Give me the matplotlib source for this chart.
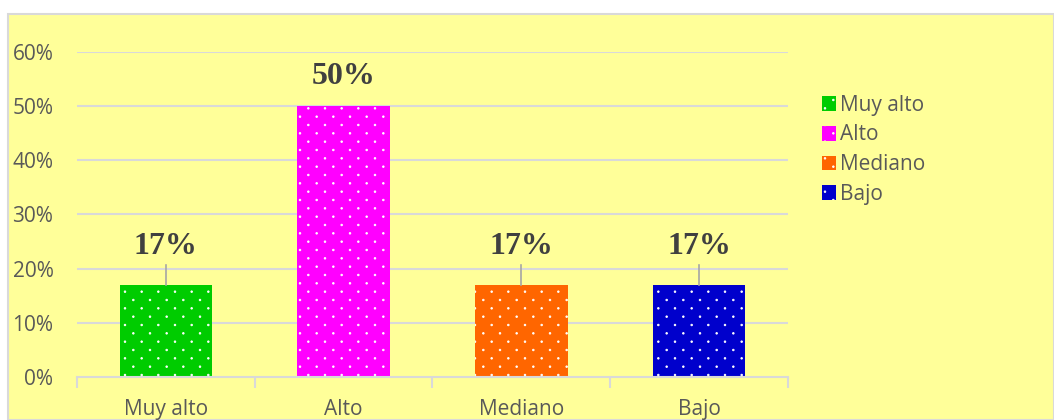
import matplotlib
matplotlib.use("Agg")
import matplotlib.pyplot as plt
import matplotlib.hatch as mhatch
from matplotlib.path import Path
from matplotlib.patches import Rectangle, Patch
import numpy as np

categories = ["Muy alto", "Alto", "Mediano", "Bajo"]
values = [0.17, 0.50, 0.17, 0.17]
labels = ["17%", "50%", "17%", "17%"]
colors = ["#00CC00", "#FF00FF", "#FF6600", "#0000CC"]
yticks = [0, 0.1, 0.2, 0.3, 0.4, 0.5, 0.6]
ytick_labels = ["0%", "10%", "20%", "30%", "40%", "50%", "60%"]


# staggered small-dot hatch (columns 6/in, rows 12/in, alternate rows offset)
class StaggerDots(mhatch.HatchPatternBase):
    filled = True

    def __init__(self, hatch, density):
        self.ncols = hatch.count('.') * density
        self.nrows = 2 * self.ncols
        path = Path.unit_circle()
        self.shape_vertices = path.vertices
        self.shape_codes = path.codes
        if self.ncols == 0:
            self.num_vertices = 0
        else:
            n = (self.nrows // 2 + 1) * (self.ncols + 1) + (self.nrows // 2) * self.ncols
            self.num_vertices = n * len(self.shape_vertices)

    def set_vertices_and_codes(self, vertices, codes):
        sv = self.shape_vertices * 0.008
        vp, cp = [], []
        coff = 1.0 / self.ncols
        for row in range(self.nrows + 1):
            if row % 2 == 0:
                cols = np.linspace(0, 1, self.ncols + 1)
            else:
                cols = np.linspace(coff / 2, 1 - coff / 2, self.ncols)
            rp = row / self.nrows
            for c in cols:
                vp.append(sv + [c, rp])
                cp.append(self.shape_codes)
        np.concatenate(vp, out=vertices)
        np.concatenate(cp, out=codes)


mhatch._hatch_types = [t for t in mhatch._hatch_types
                       if t is not mhatch.SmallFilledCircles] + [StaggerDots]

plt.rcParams["hatch.color"] = "white"
plt.rcParams["hatch.linewidth"] = 0.6

W, H = 1054, 420
fig = plt.figure(figsize=(W / 100, H / 100), dpi=100)
fig.patch.set_facecolor("white")

panel = Rectangle((8 / W, 0), 1 - 8 / W, 1 - 14 / H, transform=fig.transFigure,
                  facecolor="#FFFF99", edgecolor="#D9D9D9", linewidth=1.5, zorder=-10)
fig.patches.append(panel)

FONT = "Open Sans"
FS = 15
ax = fig.add_axes([77 / W, 1 - 377 / H, (788 - 77) / W, (377 - 52) / H])
ax.set_facecolor("none")
x = np.arange(len(categories))
ax.set_xlim(-0.5, len(categories) - 0.5)
ax.set_ylim(0, 0.6)

grey_txt = "#595959"
grid_c = "#D9D9D9"

for yv in yticks[1:]:
    ax.axhline(yv, color=grid_c, linewidth=1.5, zorder=1)

bw = 0.52
ax.bar(x, values, width=bw, color=colors, edgecolor="none", zorder=2)
ax.bar(x, values, width=bw, facecolor="none", edgecolor="white", hatch=".", linewidth=0, zorder=3)

for s in ["top", "right", "left"]:
    ax.spines[s].set_visible(False)
ax.spines["bottom"].set_color(grid_c)
ax.spines["bottom"].set_linewidth(1.5)

ax.set_yticks(yticks)
ax.set_yticklabels(ytick_labels, color=grey_txt, fontsize=FS, family=FONT)
ax.tick_params(axis="y", length=0, pad=17)
ax.set_xticks(np.arange(-0.5, len(categories), 1.0))
ax.set_xticklabels([])
ax.set_xticks(x, minor=True)
ax.set_xticklabels(categories, minor=True, color=grey_txt, fontsize=FS, family=FONT)
ax.tick_params(axis="x", which="major", length=8, color=grid_c, width=1.5)
ax.tick_params(axis="x", which="minor", length=0, pad=16)

label_y = [0.240, 0.5545, 0.240, 0.240]
for xi, v, lab, ly in zip(x, values, labels, label_y):
    ax.text(xi, ly, lab, ha="center", va="center", fontsize=23, fontweight="bold",
            family="Liberation Serif", color="#404040", zorder=5)
    if ly - v > 0.065:
        ax.plot([xi, xi], [v, 0.207], color="#A6A6A6", linewidth=1.2, zorder=4)

handles = [Patch(facecolor=c, hatch=".") for c in colors]
leg = fig.legend(handles, categories, loc="upper left", bbox_to_anchor=(803 / W, 1 - 76 / H),
                 frameon=False, prop={"family": FONT, "size": FS},
                 handlelength=0.7, handleheight=0.7, handletextpad=0.2, labelspacing=0.42)
for t in leg.get_texts():
    t.set_color(grey_txt)

fig.savefig("out.png", dpi=100, facecolor=fig.get_facecolor())
